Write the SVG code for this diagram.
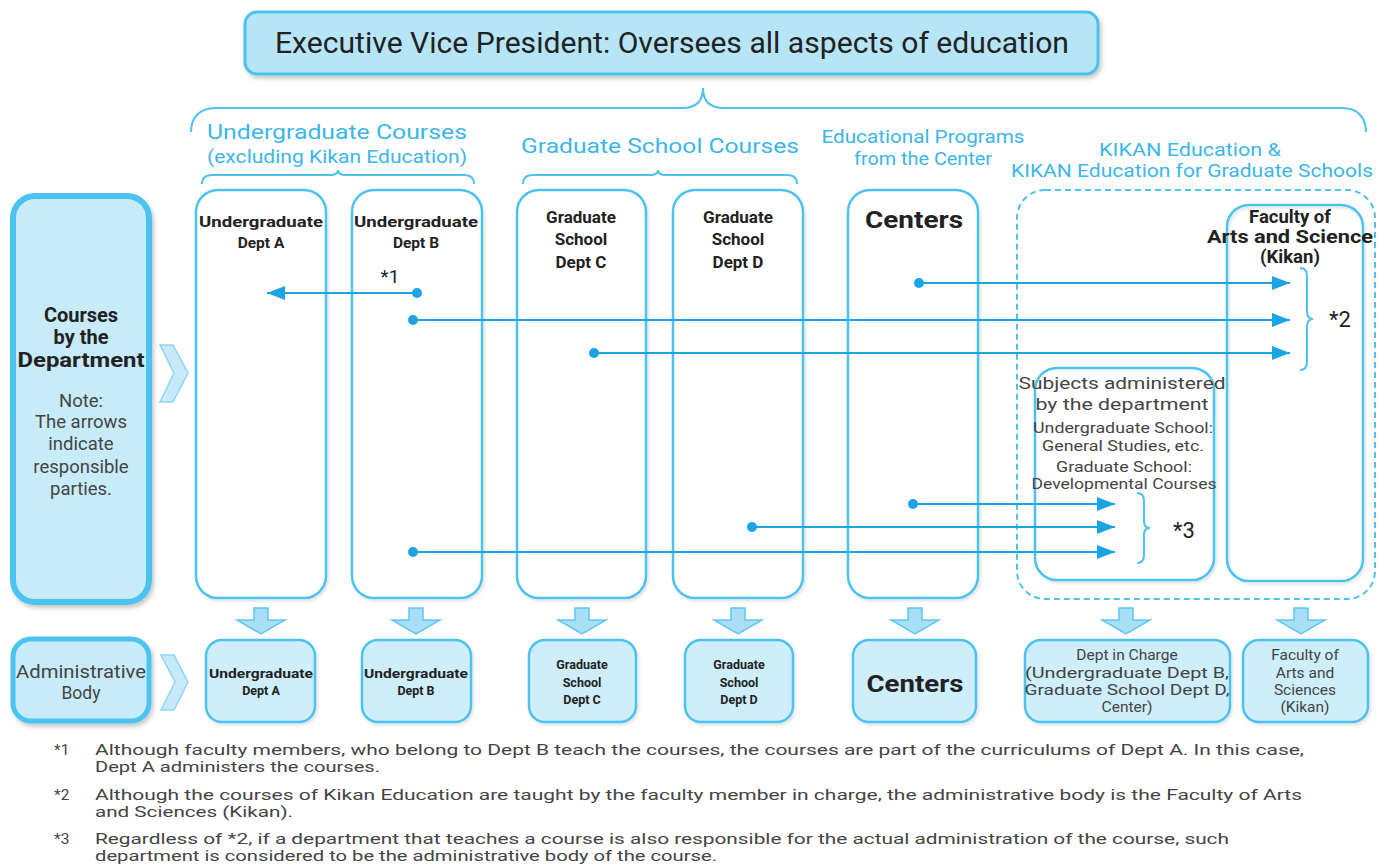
<svg xmlns="http://www.w3.org/2000/svg" width="1389" height="866" viewBox="0 0 1389 866">
<defs>
<style>
text{font-family:Roboto,"Liberation Sans",sans-serif;}
.c{text-anchor:middle;}
.lbl{fill:#3cb6ea;}
.dk{fill:#222;}
.gy{fill:#444;}
.b{font-weight:bold;}
.col{fill:#fff;stroke:#4cc2ef;stroke-width:2.5;}
.bot{fill:#cdeefa;stroke:#4cc2ef;stroke-width:2.5;}
.side{fill:#c8ebf9;stroke:#4cc2ef;}
.brace{fill:none;stroke:#4cc2ef;stroke-width:2;}
.ln{fill:none;stroke:#1aa4e4;stroke-width:2;marker-start:url(#dot);marker-end:url(#ah);}
.blk{fill:#a8def6;stroke:#5fc7f0;stroke-width:1.5;}
.chev{fill:#c6eaf9;stroke:#8fd6f3;stroke-width:1.5;}
.fn{font-size:15.5px;fill:#444;}
</style>
<filter id="sh" x="-10%" y="-10%" width="125%" height="125%">
<feDropShadow dx="2" dy="3" stdDeviation="2" flood-color="#000" flood-opacity="0.22"/>
</filter>
<filter id="sh2" x="-10%" y="-10%" width="125%" height="125%">
<feDropShadow dx="1.5" dy="2" stdDeviation="1.5" flood-color="#000" flood-opacity="0.12"/>
</filter>
<marker id="ah" viewBox="0 0 18 14" markerUnits="userSpaceOnUse" markerWidth="18" markerHeight="14" refX="18" refY="7" orient="auto">
<path d="M0,0 L18,7 L0,14 z" fill="#1aa4e4"/>
</marker>
<marker id="dot" viewBox="0 0 11 11" markerUnits="userSpaceOnUse" markerWidth="11" markerHeight="11" refX="5.5" refY="5.5" orient="auto">
<circle cx="5.5" cy="5.5" r="5" fill="#1aa4e4"/>
</marker>
</defs>
<rect width="1389" height="866" fill="#fff"/>

<g id="evp">
<rect x="245" y="12" width="853" height="62" rx="12" fill="#b6e5f8" stroke="#4cc2ef" stroke-width="3" filter="url(#sh)"/>
<text x="672" y="53" class="c dk" font-size="29" textLength="794" lengthAdjust="spacingAndGlyphs">Executive Vice President: Oversees all aspects of education</text>
</g>

<g id="group-labels">
<text x="337" y="139" class="c lbl" font-size="21" textLength="260" lengthAdjust="spacingAndGlyphs">Undergraduate Courses</text>
<text x="337" y="163" class="c lbl" font-size="19" textLength="260" lengthAdjust="spacingAndGlyphs">(excluding Kikan Education)</text>
<text x="660" y="153" class="c lbl" font-size="21" textLength="278" lengthAdjust="spacingAndGlyphs">Graduate School Courses</text>
<text x="923" y="143" class="c lbl" font-size="18" textLength="203" lengthAdjust="spacingAndGlyphs">Educational Programs</text>
<text x="923" y="165" class="c lbl" font-size="18" textLength="138" lengthAdjust="spacingAndGlyphs">from the Center</text>
<text x="1190" y="156" class="c lbl" font-size="18" textLength="182" lengthAdjust="spacingAndGlyphs">KIKAN Education &amp;</text>
<text x="1192" y="177" class="c lbl" font-size="18" textLength="362" lengthAdjust="spacingAndGlyphs">KIKAN Education for Graduate Schools</text>
</g>

<g id="courses-by-dept">
<rect x="13" y="196" width="136" height="406" rx="22" class="side" stroke-width="6" filter="url(#sh)"/>
<text x="81" y="322" class="c dk b" font-size="20">Courses</text>
<text x="81" y="344" class="c dk b" font-size="20">by the</text>
<text x="81" y="367" class="c dk b" font-size="20" textLength="127" lengthAdjust="spacingAndGlyphs">Department</text>
<text x="81" y="407" class="c gy" font-size="18.5">Note:</text>
<text x="81" y="428" class="c gy" font-size="18.5">The arrows</text>
<text x="81" y="450" class="c gy" font-size="18.5">indicate</text>
<text x="81" y="473" class="c gy" font-size="18.5">responsible</text>
<text x="81" y="495" class="c gy" font-size="18.5">parties.</text>
<polygon class="chev" points="160,345 173,345 188,373 173,402 160,402 174,373"/>
</g>

<g id="col-ug-a">
<rect x="196" y="190" width="130" height="408" rx="22" class="col" filter="url(#sh2)"/>
<text x="261" y="227" class="c dk b" font-size="15.5" textLength="124" lengthAdjust="spacingAndGlyphs">Undergraduate</text>
<text x="261" y="248" class="c dk b" font-size="15.5">Dept A</text>
</g>
<g id="col-ug-b">
<rect x="352" y="190" width="130" height="408" rx="22" class="col" filter="url(#sh2)"/>
<text x="416" y="227" class="c dk b" font-size="15.5" textLength="124" lengthAdjust="spacingAndGlyphs">Undergraduate</text>
<text x="416" y="248" class="c dk b" font-size="15.5">Dept B</text>
<text x="390" y="283" class="c dk" font-size="19">*1</text>
</g>
<g id="col-gs-c">
<rect x="517" y="190" width="129" height="408" rx="22" class="col" filter="url(#sh2)"/>
<text x="581" y="223" class="c dk b" font-size="17">Graduate</text>
<text x="581" y="245" class="c dk b" font-size="17">School</text>
<text x="581" y="268" class="c dk b" font-size="17">Dept C</text>
</g>
<g id="col-gs-d">
<rect x="673" y="190" width="130" height="408" rx="22" class="col" filter="url(#sh2)"/>
<text x="738" y="223" class="c dk b" font-size="17">Graduate</text>
<text x="738" y="245" class="c dk b" font-size="17">School</text>
<text x="738" y="268" class="c dk b" font-size="17">Dept D</text>
</g>
<g id="col-centers">
<rect x="848" y="190" width="130" height="408" rx="22" class="col" filter="url(#sh2)"/>
<text x="914" y="228" class="c dk b" font-size="24" textLength="98" lengthAdjust="spacingAndGlyphs">Centers</text>
</g>
<g id="kikan-area">
<rect x="1017" y="190" width="358" height="409" rx="28" fill="none" stroke="#4cc2ef" stroke-width="2" stroke-dasharray="6 4"/>
</g>
<g id="col-subjects">
<rect x="1035" y="368" width="179" height="212" rx="22" class="col" filter="url(#sh2)"/>
<text x="1122" y="389" class="c gy" font-size="17" textLength="207" lengthAdjust="spacingAndGlyphs">Subjects administered</text>
<text x="1122" y="410" class="c gy" font-size="17" textLength="173" lengthAdjust="spacingAndGlyphs">by the department</text>
<text x="1123" y="433" class="c gy" font-size="14" textLength="180" lengthAdjust="spacingAndGlyphs">Undergraduate School:</text>
<text x="1123" y="451" class="c gy" font-size="14" textLength="162" lengthAdjust="spacingAndGlyphs">General Studies, etc.</text>
<text x="1124" y="472" class="c gy" font-size="14" textLength="136" lengthAdjust="spacingAndGlyphs">Graduate School:</text>
<text x="1124" y="489" class="c gy" font-size="14" textLength="185" lengthAdjust="spacingAndGlyphs">Developmental Courses</text>
<text x="1184" y="538" class="c dk" font-size="22">*3</text>
</g>
<g id="col-faculty">
<rect x="1227" y="205" width="136" height="376" rx="22" class="col" fill-opacity="0" filter="url(#sh2)"/>
<text x="1290" y="223" class="c dk b" font-size="18.5">Faculty of</text>
<text x="1290" y="243" class="c dk b" font-size="18.5" textLength="166" lengthAdjust="spacingAndGlyphs">Arts and Science</text>
<text x="1290" y="263" class="c dk b" font-size="18.5">(Kikan)</text>
<text x="1340" y="327" class="c dk" font-size="22">*2</text>
</g>

<g id="braces">
<path class="brace" d="M191,132 C191,118 199,108 216,108 L682,108 C697,108 703,100 703,88 C703,100 709,108 724,108 L1342,108 C1358,108 1366,118 1366,132"/>
<path class="brace" d="M202,184 C202,178 205,175 212,175 L330,175 C335,175 338,173 338,170 C338,173 341,175 346,175 L464,175 C470,175 474,178 474,184"/>
<path class="brace" d="M523,184 C523,178 526,175 533,175 L650,175 C655,175 658,173 658,170 C658,173 661,175 666,175 L787,175 C793,175 797,178 797,184"/>
<path class="brace" d="M1300,268 C1305,268 1307,271 1307,276 L1307,311 C1307,316 1309,319 1313,319 C1309,319 1307,322 1307,327 L1307,362 C1307,367 1305,370 1300,370"/>
<path class="brace" d="M1137,493 C1142,493 1144,496 1144,501 L1144,521 C1144,526 1146,528 1150,528 C1146,528 1144,530 1144,535 L1144,555 C1144,560 1142,563 1137,563"/>
</g>

<g id="connectors">
<path class="ln" d="M417,293 L267,293"/>
<path class="ln" d="M413,320 L1290,320"/>
<path class="ln" d="M919,283 L1290,283"/>
<path class="ln" d="M594,353 L1290,353"/>
<path class="ln" d="M913,504 L1115,504"/>
<path class="ln" d="M752,527 L1115,527"/>
<path class="ln" d="M413,552 L1115,552"/>
<path class="blk" d="M254,608 H268 V620 H285 L261,634 L237,620 H254 Z"/>
<path class="blk" d="M409,608 H423 V620 H440 L416,634 L392,620 H409 Z"/>
<path class="blk" d="M575,608 H589 V620 H606 L582,634 L558,620 H575 Z"/>
<path class="blk" d="M731,608 H745 V620 H762 L738,634 L714,620 H731 Z"/>
<path class="blk" d="M908,608 H922 V620 H939 L915,634 L891,620 H908 Z"/>
<path class="blk" d="M1119,608 H1133 V620 H1150 L1126,634 L1102,620 H1119 Z"/>
<path class="blk" d="M1294,608 H1308 V620 H1325 L1301,634 L1277,620 H1294 Z"/>
</g>

<g id="admin-body">
<rect x="13" y="639" width="136" height="82" rx="18" class="side" stroke-width="5" filter="url(#sh)"/>
<text x="81" y="678" class="c gy" font-size="17.5" textLength="130" lengthAdjust="spacingAndGlyphs">Administrative</text>
<text x="81" y="699" class="c gy" font-size="17.5">Body</text>
<polygon class="chev" points="161,655 174,655 188,682 174,710 161,710 175,682"/>
</g>
<g id="adm-ug-a">
<rect x="206" y="640" width="109" height="82" rx="16" class="bot" filter="url(#sh2)"/>
<text x="261" y="678" class="c dk b" font-size="12.5" textLength="104" lengthAdjust="spacingAndGlyphs">Undergraduate</text>
<text x="261" y="695" class="c dk b" font-size="12.5">Dept A</text>
</g>
<g id="adm-ug-b">
<rect x="362" y="640" width="109" height="82" rx="16" class="bot" filter="url(#sh2)"/>
<text x="416" y="678" class="c dk b" font-size="12.5" textLength="104" lengthAdjust="spacingAndGlyphs">Undergraduate</text>
<text x="416" y="695" class="c dk b" font-size="12.5">Dept B</text>
</g>
<g id="adm-gs-c">
<rect x="529" y="640" width="107" height="82" rx="16" class="bot" filter="url(#sh2)"/>
<text x="582" y="669" class="c dk b" font-size="12.5">Graduate</text>
<text x="582" y="687" class="c dk b" font-size="12.5">School</text>
<text x="582" y="704" class="c dk b" font-size="12.5">Dept C</text>
</g>
<g id="adm-gs-d">
<rect x="685" y="640" width="108" height="82" rx="16" class="bot" filter="url(#sh2)"/>
<text x="739" y="669" class="c dk b" font-size="12.5">Graduate</text>
<text x="739" y="687" class="c dk b" font-size="12.5">School</text>
<text x="739" y="704" class="c dk b" font-size="12.5">Dept D</text>
</g>
<g id="adm-centers">
<rect x="853" y="640" width="123" height="82" rx="16" class="bot" filter="url(#sh2)"/>
<text x="915" y="692" class="c dk b" font-size="23" textLength="97" lengthAdjust="spacingAndGlyphs">Centers</text>
</g>
<g id="adm-charge">
<rect x="1025" y="640" width="205" height="82" rx="16" class="bot" filter="url(#sh2)"/>
<text x="1127" y="660" class="c gy" font-size="15.5">Dept in Charge</text>
<text x="1127" y="678" class="c gy" font-size="15.5" textLength="204" lengthAdjust="spacingAndGlyphs">(Undergraduate Dept B,</text>
<text x="1127" y="695" class="c gy" font-size="15.5" textLength="205" lengthAdjust="spacingAndGlyphs">Graduate School Dept D,</text>
<text x="1127" y="712" class="c gy" font-size="15.5">Center)</text>
</g>
<g id="adm-faculty">
<rect x="1243" y="640" width="125" height="82" rx="16" class="bot" filter="url(#sh2)"/>
<text x="1305" y="660" class="c gy" font-size="15.5">Faculty of</text>
<text x="1305" y="678" class="c gy" font-size="15.5">Arts and</text>
<text x="1305" y="695" class="c gy" font-size="15.5">Sciences</text>
<text x="1305" y="712" class="c gy" font-size="15.5">(Kikan)</text>
</g>

<g id="footnotes">
<text x="54" y="755" class="fn">*1</text>
<text x="95" y="755" class="fn" textLength="1209" lengthAdjust="spacingAndGlyphs">Although faculty members, who belong to Dept B teach the courses, the courses are part of the curriculums of Dept A. In this case,</text>
<text x="95" y="772" class="fn" textLength="285" lengthAdjust="spacingAndGlyphs">Dept A administers the courses.</text>
<text x="54" y="800" class="fn">*2</text>
<text x="95" y="800" class="fn" textLength="1207" lengthAdjust="spacingAndGlyphs">Although the courses of Kikan Education are taught by the faculty member in charge, the administrative body is the Faculty of Arts</text>
<text x="95" y="817" class="fn" textLength="198" lengthAdjust="spacingAndGlyphs">and Sciences (Kikan).</text>
<text x="54" y="844" class="fn">*3</text>
<text x="95" y="844" class="fn" textLength="1134" lengthAdjust="spacingAndGlyphs">Regardless of *2, if a department that teaches a course is also responsible for the actual administration of the course, such</text>
<text x="95" y="861" class="fn" textLength="622" lengthAdjust="spacingAndGlyphs">department is considered to be the administrative body of the course.</text>
</g>
</svg>
